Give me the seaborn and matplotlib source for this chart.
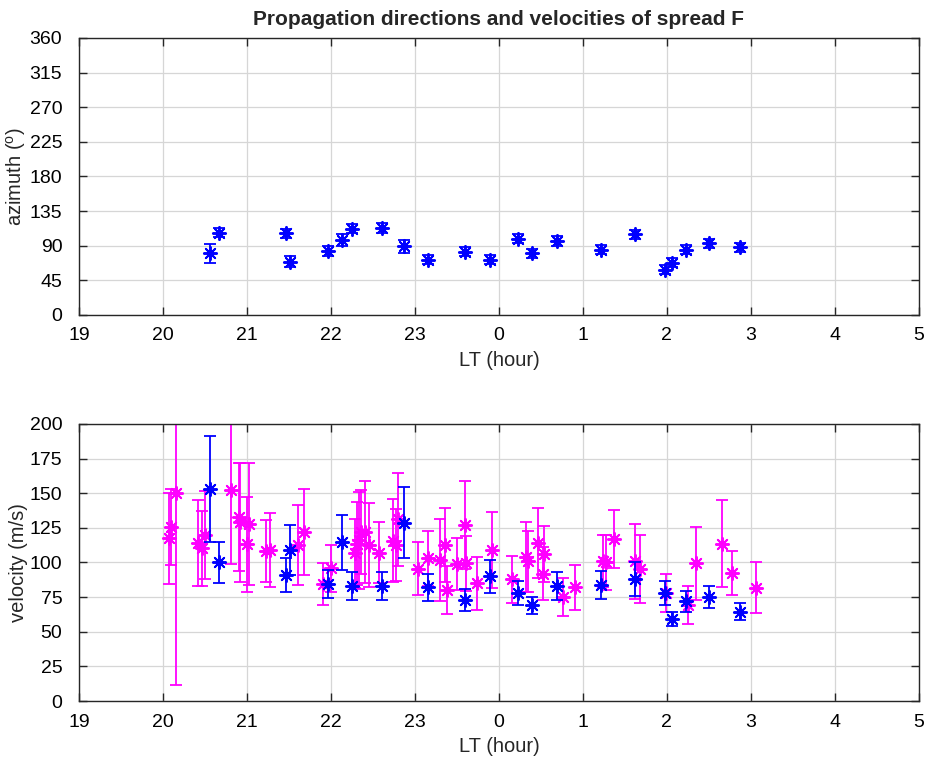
import numpy as np
import pandas as pd
import seaborn as sns
import matplotlib.pyplot as plt

# Azimuth / velocity of the fitted events (blue), LT in hours after 19 (24 = midnight)
lt = [20.56, 20.67, 21.46, 21.51, 21.96, 22.13, 22.25, 22.61, 22.87, 23.15, 23.60,
      23.89, 24.23, 24.39, 24.69, 25.21, 25.62, 25.98, 26.06, 26.23, 26.50, 26.87]
az = [80, 107, 106, 69, 83, 97, 112, 113, 89, 72, 82,
      72, 99, 80, 96, 85, 105, 59, 68, 85, 93, 88]
az_err = [12, 6, 6, 7, 6, 8, 6, 6, 9, 6, 6,
          6, 6, 6, 6, 6, 6, 6, 6, 6, 6, 6]
vel = [153, 100, 91, 109, 84.5, 114.6, 83, 83, 128.7, 82, 73,
       90, 78, 69, 83, 84, 88, 78, 59, 72, 75, 64.5]
vel_err = [38, 15, 12, 18, 10, 20, 10, 10, 25.5, 10, 8,
           12, 8.5, 6, 10, 10, 12, 9, 5, 7.5, 8, 6]

# Individual velocity estimates (magenta)
lt_m = [20.07, 20.10, 20.16, 20.42, 20.46, 20.50, 20.81, 20.90, 20.92, 21.00, 21.03,
        21.23, 21.28, 21.61, 21.68, 21.91, 22.00, 22.29, 22.31, 22.33, 22.36, 22.40,
        22.45, 22.575, 22.74, 22.78, 22.80, 23.04, 23.16, 23.30, 23.36, 23.38, 23.50,
        23.60, 23.61, 23.74, 23.92, 24.16, 24.32, 24.34, 24.47, 24.52, 24.54, 24.76,
        24.90, 25.24, 25.28, 25.37, 25.62, 25.68, 25.99, 26.25, 26.35, 26.66, 26.78, 27.06]
vel_m = [117.5, 125.5, 150.4, 113.8, 110.2, 119.9, 152.3, 132.7, 129, 113, 127.8,
         108.3, 109, 112.6, 122.3, 84.5, 95.8, 106.6, 113.4, 116, 122, 122,
         112.6, 107, 115.7, 112.6, 131.2, 95.5, 103, 102, 112.6, 80, 99,
         127, 99.4, 85, 109, 88, 104, 101, 113.8, 92, 106, 75.3,
         82, 101, 100, 117, 101, 95.3, 78, 69.3, 99.4, 113.4, 92.6, 81.8]
vel_m_err = [33, 27.6, 139, 31, 27, 31.5, 53.6, 39, 43, 34.6, 44,
             22.6, 26.7, 29, 31, 15, 17, 25, 30, 35, 30, 37,
             30, 22, 30, 26, 33.7, 19, 20, 29.7, 27, 17.5, 18.7,
             31.8, 20, 19, 27.6, 17, 25, 22, 25.3, 19, 20, 13.6,
             16, 19, 19.5, 20.8, 27, 24.7, 14, 13.4, 26.5, 31.4, 16, 18.3]

xtick_pos = list(range(19, 30))
xtick_lab = ["19", "20", "21", "22", "23", "0", "1", "2", "3", "4", "5"]

sns.set_style("ticks")
plt.rcParams["font.family"] = ["Liberation Sans", "DejaVu Sans"]
plt.rcParams["mathtext.default"] = "regular"

top = pd.DataFrame({"lt": lt, "az": az})
bot = pd.DataFrame({"lt": lt, "vel": vel})
bot_m = pd.DataFrame({"lt": lt_m, "vel": vel_m})

star = (8, 2, 0)
fig = plt.figure(figsize=(9.25, 7.59), dpi=100)
ax1 = fig.add_axes([0.0854, 0.585, 0.908, 0.365])
ax2 = fig.add_axes([0.0854, 0.0764, 0.908, 0.365])

# Top: azimuth
ax1.errorbar(lt, az, yerr=az_err, fmt="none", ecolor="#0000ff",
             elinewidth=1.3, capsize=4, capthick=1.3, zorder=3)
sns.scatterplot(data=top, x="lt", y="az", marker=star, color="#0000ff",
                s=90, linewidth=1.4, ax=ax1, zorder=3.1)

# Bottom: velocity
ax2.errorbar(lt_m, vel_m, yerr=vel_m_err, fmt="none", ecolor="#ff00ff",
             elinewidth=1.3, capsize=4, capthick=1.3, zorder=2)
sns.scatterplot(data=bot_m, x="lt", y="vel", marker=star, color="#ff00ff",
                s=90, linewidth=1.4, ax=ax2, zorder=2.1)
ax2.errorbar(lt, vel, yerr=vel_err, fmt="none", ecolor="#0000ff",
             elinewidth=1.3, capsize=4, capthick=1.3, zorder=3)
sns.scatterplot(data=bot, x="lt", y="vel", marker=star, color="#0000ff",
                s=90, linewidth=1.4, ax=ax2, zorder=3.1)

for ax in (ax1, ax2):
    ax.set_xlim(19, 29)
    ax.set_xticks(xtick_pos)
    ax.set_xticklabels(xtick_lab)
    ax.grid(True, color="#d6d6d6", linewidth=0.9)
    ax.set_axisbelow(True)
    ax.tick_params(direction="in", top=True, right=True, length=6, width=1,
                   color="#262626", labelsize=14, labelcolor="black")
    ax.tick_params(axis="y", pad=12)
    ax.tick_params(axis="x", pad=9)
    for sp in ax.spines.values():
        sp.set_color("#262626")
        sp.set_linewidth(1)
    ax.set_xlabel("LT (hour)", fontsize=14.5, labelpad=5)

ax1.set_ylim(0, 360)
ax1.set_yticks(np.arange(0, 361, 45))
ax1.set_ylabel("azimuth ($^{o}$)", fontsize=14.5, labelpad=1)
ax1.set_title("Propagation directions and velocities of spread F",
              fontsize=15, fontweight="bold", pad=9)

ax2.set_ylim(0, 200)
ax2.set_yticks(np.arange(0, 201, 25))
ax2.set_ylabel("velocity (m/s)", fontsize=14.5, labelpad=1)

plt.savefig("out.png", dpi=100)
